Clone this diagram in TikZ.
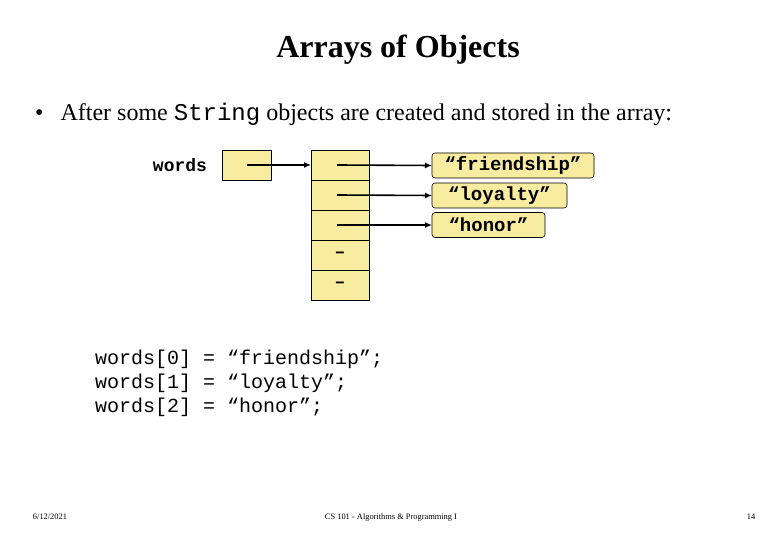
\documentclass[tikz,border=0pt]{standalone}
\usepackage{fontspec}
\setmainfont{Liberation Serif}
\setmonofont{Liberation Mono}
\usetikzlibrary{arrows,arrows.meta,shapes,positioning,calc}
\definecolor{cellyellow}{RGB}{248,236,160}
\tikzset{
    cell/.style={draw,fill=cellyellow,line width=0.6pt,minimum width=58pt,minimum height=30pt,inner sep=0pt,outer sep=0pt,font=\fontsize{18}{18}\selectfont\ttfamily\bfseries},
    refbox/.style={draw,fill=cellyellow,line width=0.6pt,minimum width=49pt,minimum height=30pt,inner sep=0pt,outer sep=0pt},
    strbox/.style={draw,fill=cellyellow,rounded corners=3pt,line width=0.6pt,minimum height=25pt,inner sep=0pt,outer sep=0pt,font=\fontsize{19}{19}\selectfont\ttfamily\bfseries},
    line/.style={-{Latex[length=7pt,width=6pt]},line width=1.6pt},
    code/.style={anchor=west,inner sep=0pt,font=\fontsize{20}{20}\selectfont\ttfamily},
    foot/.style={inner sep=0pt,font=\fontsize{8.4}{8.4}\selectfont},
}
\begin{document}
\begin{tikzpicture}[x=1pt,y=-1pt]
                \useasboundingbox (0,0) rectangle (780,540);
                \node[font=\fontsize{32}{32}\selectfont\bfseries] (title) at (398,50) {Arrays of Objects};
                \node[anchor=west,inner sep=0pt,font=\fontsize{24}{24}\selectfont] (bullet) at (35,114)
                    {\textbullet\hspace{17pt}After some {\ttfamily String} objects are created and stored in the array:};
                % reference and array
                \node[inner sep=0pt,font=\fontsize{18}{18}\selectfont\ttfamily\bfseries] (wlabel) at (180,165) {words};
                \node[refbox] (words) at (246.5,165) {};
                \node[cell] (c0) at (340,165) {};
                \node[cell,below=0pt of c0] (c1) {};
                \node[cell,below=0pt of c1] (c2) {};
                \node[cell,below=0pt of c2] (c3) {–};
                \node[cell,below=0pt of c3] (c4) {–};
                % string objects
                \node[strbox,minimum width=162pt,anchor=west] (s0) at (432,165.5) {“friendship”};
                \node[strbox,minimum width=135pt,anchor=west] (s1) at (432,195.5) {“loyalty”};
                \node[strbox,minimum width=113pt,anchor=west] (s2) at (432,225) {“honor”};
                \draw[line] (words.center) -- (c0.west);
                \draw[line] ($(c0.center)+(-3,0)$) -- (s0.west);
                \draw[line] ($(c1.center)+(-3,0)$) -- (s1.west);
                \draw[line] ($(c2.center)+(-3,0)$) -- (s2.west);
                % assignments
                \node[code] (a0) at (95,359) {words[0] = “friendship”;};
                \node[code] (a1) at (95,383) {words[1] = “loyalty”;};
                \node[code] (a2) at (95,407) {words[2] = “honor”;};
                % footer
                \node[foot] (date) at (50,517) {6/12/2021};
                \node[foot] (course) at (391,517) {CS 101 - Algorithms \& Programming I};
                \node[foot] (page) at (751,517) {14};
            \end{tikzpicture}
\end{document}
